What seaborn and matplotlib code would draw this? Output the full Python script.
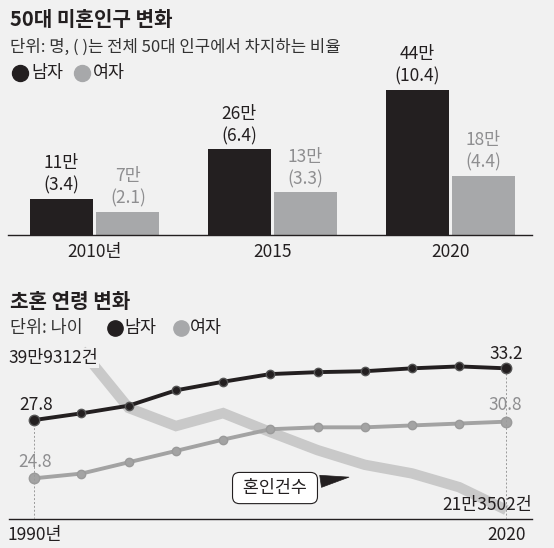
import matplotlib.pyplot as plt
import matplotlib.lines as mlines
import pandas as pd
import seaborn as sns

# 50대 미혼인구 (만 명, 괄호는 전체 50대 인구 대비 %)
bar_years = ["2010년", "2015", "2020"]
male_count = [11, 26, 44]
female_count = [7, 13, 18]
male_ratio = [3.4, 6.4, 10.4]
female_ratio = [2.1, 3.3, 4.4]

# 초혼 연령 (세)
line_years = [1990, 1993, 1996, 1999, 2002, 2005, 2008, 2011, 2014, 2017, 2020]
male_age = [27.8, 28.5, 29.3, 30.9, 31.8, 32.6, 32.8, 32.9, 33.2, 33.4, 33.2]
female_age = [24.8, 25.3, 26.5, 27.7, 28.9, 30.0, 30.2, 30.2, 30.4, 30.6, 30.8]

# 혼인건수 (천 건)
marriage_years = [1993, 1996, 1999, 2002, 2005, 2008, 2011, 2014, 2017, 2020]
marriage_count = [399.3, 332, 311, 326, 304, 283, 266, 256, 240, 213.5]

BG = "#f1f1f1"
BLACK = "#231f20"
GREY = "#a7a8aa"
GREY_TXT = "#8e8e90"
LIGHT = "#c9c9c9"

sns.set_theme(style="white")
plt.rcParams["font.family"] = ["Noto Sans CJK KR", "DejaVu Sans"]

W, H = 554, 548
fig = plt.figure(figsize=(W / 100, H / 100), dpi=100, facecolor=BG)


def fx(px):
    return px / W


def fy(py):
    return 1 - py / H


# ---------------- top: bar chart ----------------
ax1 = fig.add_axes([fx(8.3), fy(235), fx(531.7 - 8.3), 175 / H])
ax1.set_facecolor(BG)

df_bar = pd.DataFrame({
    "year": bar_years * 2,
    "sex": ["남자"] * 3 + ["여자"] * 3,
    "count": male_count + female_count,
})
sns.barplot(data=df_bar, x="year", y="count", hue="sex", order=bar_years,
            hue_order=["남자", "여자"], palette={"남자": BLACK, "여자": GREY},
            saturation=1, width=0.745, gap=0.05, legend=False, ax=ax1,
            linewidth=0, edgecolor="none")

ax1.bar_label(ax1.containers[0],
              labels=[f"{c}만\n({r})" for c, r in zip(male_count, male_ratio)],
              padding=3, fontsize=12.5, color=BLACK, linespacing=1.3)
ax1.bar_label(ax1.containers[1],
              labels=[f"{c}만\n({r})" for c, r in zip(female_count, female_ratio)],
              padding=3, fontsize=12.5, color=GREY_TXT, linespacing=1.3)

ax1.set_xlim(-0.486, 2.458)
ax1.set_ylim(0, 175 / 3.295)
ax1.set_xlabel("")
ax1.set_ylabel("")
ax1.set_yticks([])
ax1.tick_params(axis="x", length=0, pad=5.5, labelsize=12.5, colors=BLACK)
for s in ["top", "left", "right"]:
    ax1.spines[s].set_visible(False)
ax1.spines["bottom"].set_color(BLACK)
ax1.spines["bottom"].set_linewidth(1)

fig.text(fx(10), fy(20), "50대 미혼인구 변화", fontsize=14.5, fontweight="bold",
         color=BLACK, va="center", ha="left")
fig.text(fx(10), fy(47), "단위: 명, ( )는 전체 50대 인구에서 차지하는 비율",
         fontsize=12, color="#333333", va="center", ha="left")


def legend_dot(x, y, color, size=11):
    fig.add_artist(mlines.Line2D([fx(x)], [fy(y)], marker="o", markersize=size,
                                 color=color, linestyle="none",
                                 transform=fig.transFigure))


legend_dot(20, 73, BLACK, 11.5)
fig.text(fx(31), fy(73), "남자", fontsize=12.5, color=BLACK, va="center")
legend_dot(82, 73, GREY, 11.5)
fig.text(fx(93), fy(73), "여자", fontsize=12.5, color=BLACK, va="center")

# ---------------- bottom: line chart ----------------
ax2 = fig.add_axes([fx(8.8), fy(519), fx(532 - 8.8), 179 / H])
ax2.set_facecolor(BG)
ax2f = ax2.twinx()
ax2m = ax2.twinx()

# 혼인건수 (thick light line)
sns.lineplot(x=marriage_years, y=marriage_count, ax=ax2, color=LIGHT,
             linewidth=7.5, solid_capstyle="butt", solid_joinstyle="miter")

# 여자
sns.lineplot(x=line_years, y=female_age, ax=ax2f, color="#a3a3a3", linewidth=2.8,
             marker="o", markersize=6, markeredgecolor="#9a9a9a", markeredgewidth=1)
ax2f.plot([line_years[0], line_years[-1]], [female_age[0], female_age[-1]], "o",
          color="#a3a3a3", markersize=7.5, markeredgecolor="#9a9a9a")

# 남자
ax2m.vlines([line_years[0], line_years[-1]], 17.46, [male_age[0], male_age[-1]],
            colors="#9a9a9a", linestyles=(0, (2, 2)), linewidth=0.7, zorder=0)
sns.lineplot(x=line_years, y=male_age, ax=ax2m, color=BLACK, linewidth=2.8,
             marker="o", markersize=6, markeredgecolor="#555555", markeredgewidth=1)
ax2m.plot([line_years[0], line_years[-1]], [male_age[0], male_age[-1]], "o",
          color=BLACK, markersize=7.5, markeredgecolor="#555555")

ax2.set_xlim(1988.38, 2021.63)
ax2.set_ylim(203.05, 410.9)
ax2f.set_ylim(20.49, 39.45)
ax2m.set_ylim(17.46, 36.16)

for a in (ax2, ax2f, ax2m):
    a.set_xlabel("")
    a.set_ylabel("")
    a.set_yticks([])
    for s in ["top", "left", "right"]:
        a.spines[s].set_visible(False)
for a in (ax2f, ax2m):
    a.spines["bottom"].set_visible(False)
ax2.spines["bottom"].set_color(BLACK)
ax2.spines["bottom"].set_linewidth(1)
ax2.set_xticks([line_years[0], line_years[-1]])
ax2.set_xticklabels(["1990년", "2020"])
ax2.tick_params(axis="x", length=0, pad=5, labelsize=12.5, colors=BLACK)

# value labels
ax2m.annotate(f"{male_age[0]}", (line_years[0], male_age[0]), xytext=(1, 10.5),
              textcoords="offset points", ha="center", va="center",
              fontsize=12.5, color=BLACK)
ax2m.annotate(f"{male_age[-1]}", (line_years[-1], male_age[-1]), xytext=(0, 10),
              textcoords="offset points", ha="center", va="center",
              fontsize=12.5, color=BLACK)
ax2f.annotate(f"{female_age[0]}", (line_years[0], female_age[0]), xytext=(0.5, 12),
              textcoords="offset points", ha="center", va="center",
              fontsize=12.5, color=GREY_TXT)
ax2f.annotate(f"{female_age[-1]}", (line_years[-1], female_age[-1]), xytext=(-1, 12),
              textcoords="offset points", ha="center", va="center",
              fontsize=12.5, color=GREY_TXT)
ax2.annotate("39만9312건", (marriage_years[0], marriage_count[0]), xytext=(12, -5.8),
             textcoords="offset points", ha="right", va="center", fontsize=12.5,
             color=BLACK, bbox=dict(boxstyle="square,pad=0.05", fc=BG, ec="none"),
             zorder=5)
ax2.annotate("21만3502건", (marriage_years[-1], marriage_count[-1]), xytext=(18.5, 3.6),
             textcoords="offset points", ha="right", va="center", fontsize=12.5,
             color=BLACK, zorder=5)

ax2m.annotate(" 혼인건수 ", xy=(0.6554, 0.236), xycoords="axes fraction",
              xytext=(0.5088, 0.173), textcoords="axes fraction",
              ha="center", va="center", fontsize=12.5, color=BLACK,
              bbox=dict(boxstyle="round,pad=0.38,rounding_size=0.4", fc="white",
                        ec=BLACK, lw=0.8),
              arrowprops=dict(arrowstyle="wedge,tail_width=0.7,shrink_factor=0.5",
                              fc=BLACK, ec=BLACK, lw=0.5))

fig.text(fx(10), fy(302), "초혼 연령 변화", fontsize=14.5, fontweight="bold",
         color=BLACK, va="center", ha="left")
fig.text(fx(10), fy(328), "단위: 나이", fontsize=12.5, color="#333333",
         va="center", ha="left")
legend_dot(114.5, 328, BLACK, 11)
fig.text(fx(124), fy(328), "남자", fontsize=12.5, color=BLACK, va="center")
legend_dot(180.6, 328, GREY, 11)
fig.text(fx(190), fy(328), "여자", fontsize=12.5, color=BLACK, va="center")

fig.savefig("out.png", dpi=100, facecolor=BG)
